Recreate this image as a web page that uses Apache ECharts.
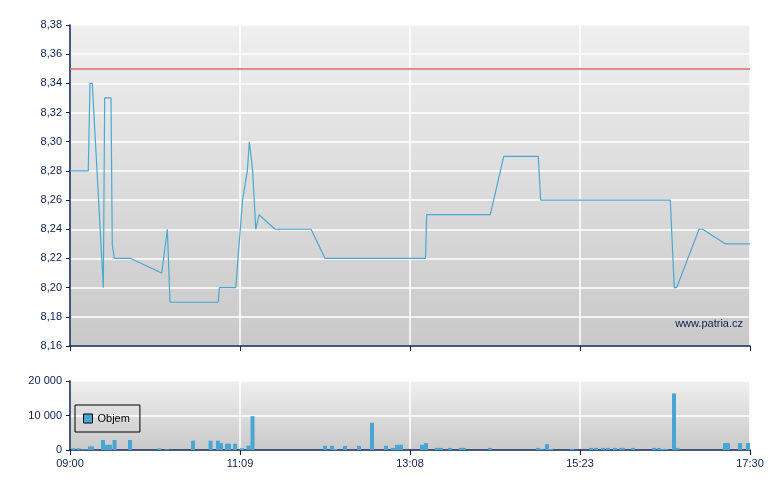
<!DOCTYPE html>
<html>
<head>
<meta charset="utf-8">
<title>Patria - graf</title>
<script src="https://cdn.jsdelivr.net/npm/echarts@6/dist/echarts.min.js"></script>
<style>
	html, body { margin: 0; padding: 0; background: #fff; }
	#chart { width: 780px; height: 490px; }
</style>
</head>
<body>
<div id="chart"></div>
<script>
// osa x: minuty obchodniho dne na linearni skale 0..510, popisky dle obrazku
var timeLabels = ['09:00', '11:09', '13:08', '15:23', '17:30'];

// cena
var priceTimes = [0, 13.7, 15, 16.7, 25, 26, 30.75, 31.7, 33.2, 45.5, 68.8, 73, 75, 111.2, 112, 124.3,
	129.4, 133, 134.5, 137, 137.8, 139.3, 140.5, 141.8, 153.8, 180.8, 191.3, 266.6, 267.5, 315.2,
	325.3, 351.2, 353, 450.2, 453.2, 455, 471.8, 474.5, 491.3, 510];
var prices = [8.28, 8.28, 8.34, 8.34, 8.20, 8.33, 8.33, 8.23, 8.22, 8.22, 8.21, 8.24, 8.19, 8.19, 8.20, 8.20,
	8.26, 8.28, 8.30, 8.28, 8.28, 8.24, 8.24, 8.25, 8.24, 8.24, 8.22, 8.22, 8.25, 8.25,
	8.29, 8.29, 8.26, 8.26, 8.20, 8.20, 8.24, 8.24, 8.23, 8.23];
var refPrice = 8.35;

// objem
var volumeTimes = [2.25, 6.4, 9.75, 12.75, 15, 16.5, 24.75, 27.75, 30, 33.4, 45, 66.75, 72.75, 92.25, 105.4,
	111, 113.25, 117.75, 119.25, 123.75, 129, 133.9, 136.9,
	191.25, 196.5, 199.1, 206.25, 216.75, 226.5, 237, 242.25, 245.25, 248.25, 264, 267, 275.25, 278.25,
	285, 293.25, 295.5, 315,
	351, 353.6, 357.75, 360.75, 376.5, 390.75, 394.5, 399.75, 403.5, 408.75, 413.25, 414.75, 422.25,
	438, 441.75, 444, 447, 453, 455.6, 491.25, 493.5, 502.5, 508.5];
var volumes = [500, 500, 200, 200, 1000, 1000, 2900, 1500, 1500, 2900, 2900, 500, 250, 2700, 2700,
	2700, 2000, 1800, 1800, 1800, 500, 1300, 9800,
	1200, 1200, 300, 1200, 1200, 7900, 1200, 600, 1500, 1500, 1500, 2000, 600, 600,
	600, 600, 600, 600,
	600, 300, 1700, 300, 300, 600, 600, 600, 600, 600, 600, 600, 600,
	600, 600, 300, 300, 16400, 600, 2000, 2000, 2000, 2000];

var navy = '#0b1f50';
var font = '"Liberation Sans", Arial, sans-serif';

function plotBg() {
	return new echarts.graphic.LinearGradient(0, 0, 0, 1, [
		{ offset: 0, color: '#efefef' },
		{ offset: 1, color: '#c9c9c9' }
	]);
}

function thousands(v) {
	return String(v).replace(/\B(?=(\d{3})+(?!\d))/g, ' ');
}

var priceData = [];
for (var i = 0; i < priceTimes.length; i++) {
	priceData.push([priceTimes[i], prices[i]]);
}
var volumeData = [];
for (var j = 0; j < volumeTimes.length; j++) {
	volumeData.push([volumeTimes[j], volumes[j]]);
}

var xCommon = {
	type: 'value',
	min: 0,
	max: 510,
	interval: 127.5,
	axisLine: { show: true, onZero: false, lineStyle: { color: navy, width: 1.5 } },
	axisTick: { show: true, length: 5, lineStyle: { color: navy } },
	splitLine: { show: true, lineStyle: { color: '#ffffff', width: 1.5 } }
};

var chart = echarts.init(document.getElementById('chart'));
chart.setOption({
	animation: false,
	backgroundColor: '#ffffff',
	textStyle: { fontFamily: font },
	grid: [
		{ left: 70, top: 25, width: 680, height: 321, show: true, borderWidth: 0, backgroundColor: plotBg() },
		{ left: 70, top: 381, width: 680, height: 69, show: true, borderWidth: 0, backgroundColor: plotBg() }
	],
	xAxis: [
		echarts.util.merge({ gridIndex: 0, axisLabel: { show: false } }, xCommon),
		echarts.util.merge({
			gridIndex: 1,
			axisLabel: {
				show: true, color: navy, fontSize: 11, margin: 8, fontFamily: font,
				formatter: function (v) { return timeLabels[Math.round(v / 127.5)]; }
			}
		}, xCommon)
	],
	yAxis: [{
		gridIndex: 0,
		type: 'value',
		min: 8.16,
		max: 8.38,
		interval: 0.02,
		axisLine: { show: true, lineStyle: { color: navy, width: 1.5 } },
		axisTick: { show: true, length: 4, lineStyle: { color: navy } },
		axisLabel: {
			color: navy, fontSize: 11, margin: 8, fontFamily: font,
			formatter: function (v) { return v.toFixed(2).replace('.', ','); }
		},
		splitLine: { show: true, lineStyle: { color: '#ffffff', width: 1.5 } }
	}, {
		gridIndex: 1,
		type: 'value',
		min: 0,
		max: 20000,
		interval: 10000,
		axisLine: { show: true, lineStyle: { color: navy, width: 1.5 } },
		axisTick: { show: true, length: 4, lineStyle: { color: navy } },
		axisLabel: {
			color: navy, fontSize: 11, margin: 8, fontFamily: font,
			formatter: function (v) { return thousands(v); }
		},
		splitLine: { show: true, lineStyle: { color: '#ffffff', width: 1.5 } }
	}],
	legend: {
		data: [{ name: 'Objem', itemStyle: { color: '#47a7d1', borderColor: '#000', borderWidth: 1 } }],
		left: 75,
		top: 405,
		padding: [8, 10, 8, 8],
		borderColor: '#000',
		borderWidth: 1,
		borderRadius: 0,
		itemWidth: 9,
		itemHeight: 9,
		icon: 'rect',
		selectedMode: false,
		textStyle: { color: '#000', fontSize: 11, fontFamily: font }
	},
	graphic: [{
		type: 'text',
		right: 37,
		top: 318,
		silent: true,
		style: { text: 'www.patria.cz', fill: navy, font: '11px ' + font }
	}],
	series: [{
		name: 'Cena',
		type: 'line',
		xAxisIndex: 0,
		yAxisIndex: 0,
		data: priceData,
		symbol: 'none',
		lineStyle: { color: '#4aa8d2', width: 1.2 },
		itemStyle: { color: '#4aa8d2' },
		markLine: {
			silent: true,
			symbol: 'none',
			label: { show: false },
			lineStyle: { color: '#d96c6c', width: 1.5, type: 'solid' },
			data: [{ yAxis: refPrice }]
		}
	}, {
		name: 'Objem',
		type: 'bar',
		xAxisIndex: 1,
		yAxisIndex: 1,
		data: volumeData,
		barWidth: 4,
		itemStyle: { color: '#47a7d1' }
	}]
});
</script>
</body>
</html>
